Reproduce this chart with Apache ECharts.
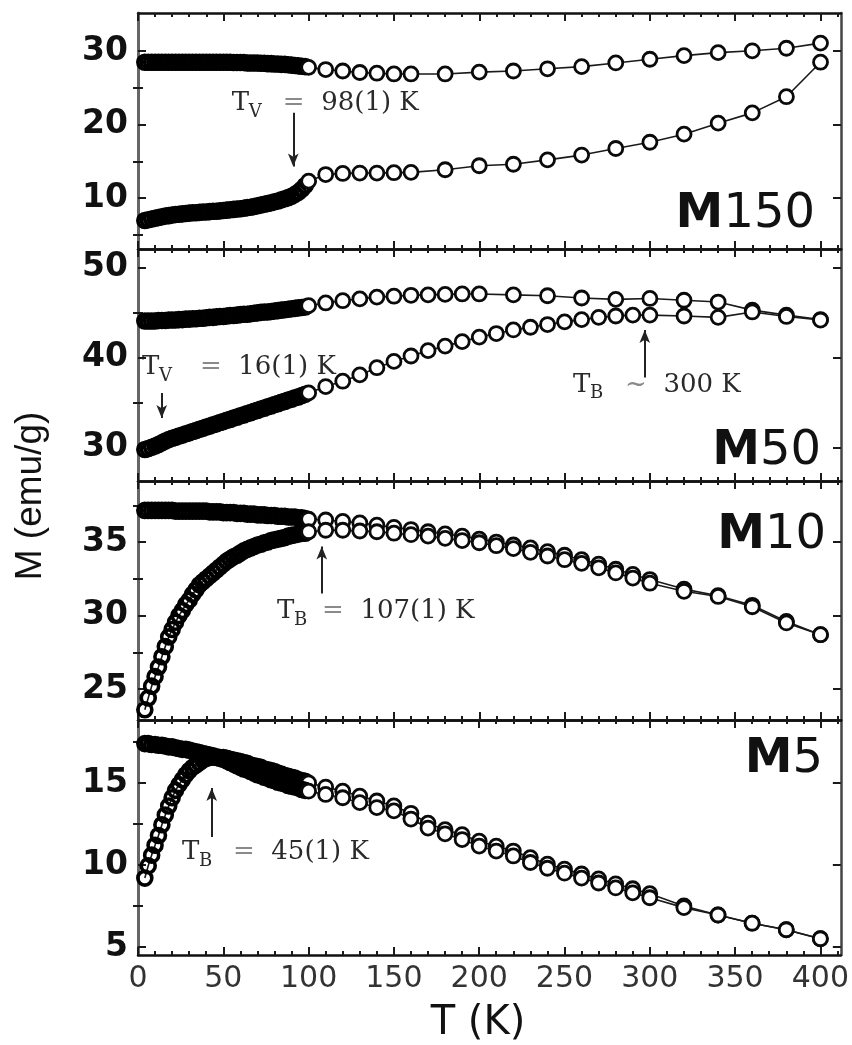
<!DOCTYPE html>
<html>
<head>
<meta charset="utf-8">
<script src="https://cdn.jsdelivr.net/npm/echarts@6/dist/echarts.min.js"></script>
<style>
  html, body { margin: 0; padding: 0; background: #fff; }
  #chart { width: 852px; height: 1045px; }
</style>
</head>
<body>
<div id="chart"></div>
<script>
// ---- temperature grids (K) ----
const T_FINE = [4,6,8,10,12,14,16,18,20,22,24,26,28,30,32,34,36,38,40,42,44,46,48,50,
                52,54,56,58,60,62,64,66,68,70,72,74,76,78,80,82,84,86,88,90,92,94,96,98];
const T_A = [100,110,120,130,140,150,160,180,200,220,240,260,280,300,320,340,360,380,400];
const T_B = [100,110,120,130,140,150,160,170,180,190,200,220,240,260,280,300,320,340,360,380,400];
const T_C = [100,110,120,130,140,150,160,170,180,190,200,210,220,230,240,250,260,270,280,290,300,
             320,340,360,380,400];

// ---- M150 (emu/g) ----
const M150_FC_FINE = [28.5,28.5,28.5,28.5,28.5,28.5,28.5,28.5,28.5,28.5,
                      28.5,28.5,28.5,28.5,28.5,28.5,28.5,28.5,28.5,28.5,
                      28.5,28.5,28.5,28.5,28.5,28.5,28.45,28.45,28.45,28.45,
                      28.4,28.4,28.4,28.4,28.35,28.35,28.3,28.3,28.25,28.25,
                      28.2,28.2,28.15,28.1,28.05,28.0,27.95,27.9];
const M150_FC = [27.8,27.5,27.3,27.1,27.0,26.9,26.9,26.9,27.15,27.3,27.6,27.9,28.4,28.9,29.4,29.8,30.05,30.4,31.1];
const M150_ZFC_FINE = [6.95,7.05,7.15,7.25,7.35,7.45,7.55,7.6,7.7,7.75,
                       7.8,7.85,7.9,7.95,8.0,8.0,8.05,8.1,8.1,8.15,
                       8.2,8.2,8.25,8.3,8.35,8.4,8.45,8.5,8.55,8.6,
                       8.7,8.75,8.85,8.95,9.05,9.15,9.25,9.35,9.5,9.6,
                       9.75,9.9,10.05,10.25,10.5,10.8,11.2,11.7];
const M150_ZFC = [12.3,13.2,13.35,13.4,13.4,13.45,13.5,13.85,14.4,14.6,15.2,15.85,16.75,17.6,18.7,20.2,21.6,23.8,28.5];

// ---- M50 ----
const M50_FC_FINE = [44.1,44.1,44.1,44.1,44.15,44.15,44.15,44.2,44.2,44.2,
                     44.25,44.25,44.3,44.3,44.35,44.35,44.4,44.4,44.45,44.5,
                     44.5,44.55,44.6,44.6,44.65,44.7,44.7,44.75,44.8,44.85,
                     44.85,44.9,44.95,45.0,45.05,45.1,45.1,45.15,45.2,45.25,
                     45.3,45.35,45.4,45.45,45.5,45.55,45.6,45.65];
const M50_FC = [45.8,46.1,46.35,46.55,46.75,46.85,46.95,47.0,47.05,47.1,47.1,
                47.0,46.9,46.65,46.5,46.6,46.4,46.2,45.3,44.75,44.25];
const M50_ZFC_FINE = [29.8,29.9,30.05,30.2,30.35,30.55,30.75,30.9,31.05,31.15,
                      31.3,31.4,31.55,31.65,31.8,31.9,32.05,32.15,32.3,32.4,
                      32.55,32.65,32.8,32.9,33.05,33.15,33.3,33.4,33.55,33.65,
                      33.8,33.9,34.05,34.15,34.3,34.4,34.55,34.65,34.8,34.9,
                      35.05,35.15,35.3,35.4,35.55,35.65,35.8,35.95];
const M50_ZFC = [36.1,36.8,37.4,38.1,38.9,39.6,40.2,40.8,41.3,41.8,42.3,42.7,43.1,43.4,43.7,
                 44.0,44.25,44.5,44.65,44.75,44.75,44.65,44.5,45.1,44.6,44.2];

// ---- M10 ----
const M10_FC_FINE = [37.15,37.15,37.15,37.15,37.15,37.15,37.15,37.15,37.15,
                     37.1,37.1,37.1,37.1,37.1,37.1,37.1,37.1,37.1,37.1,
                     37.05,37.05,37.05,37.05,37.0,37.0,37.0,37.0,36.95,36.95,
                     36.95,36.9,36.9,36.9,36.85,36.85,36.85,36.8,36.8,36.8,
                     36.75,36.75,36.75,36.7,36.7,36.7,36.65,36.65,36.6];
const M10_FC = [36.55,36.5,36.4,36.3,36.15,36.0,35.85,35.7,35.55,35.4,35.2,35.0,34.8,34.6,34.35,
                34.1,33.8,33.5,33.15,32.8,32.45,31.8,31.35,30.7,29.6,28.7];
const M10_ZFC_FINE = [23.6,24.4,25.2,25.85,26.5,27.2,27.9,28.55,29.05,29.55,
                      30.0,30.35,30.75,31.05,31.45,31.75,32.1,32.3,32.5,32.7,
                      32.9,33.1,33.3,33.5,33.7,33.85,34.0,34.1,34.25,34.4,
                      34.5,34.6,34.7,34.8,34.85,34.95,35.0,35.1,35.15,35.2,
                      35.25,35.3,35.4,35.45,35.5,35.55,35.6,35.6];
const M10_ZFC = [35.7,35.8,35.8,35.75,35.7,35.6,35.5,35.4,35.25,35.1,34.95,34.75,34.55,34.3,34.05,
                 33.8,33.55,33.25,32.9,32.55,32.2,31.65,31.3,30.6,29.5,28.7];

// ---- M5 ----
const M5_FC_FINE = [17.4,17.4,17.35,17.35,17.3,17.3,17.25,17.2,17.2,17.15,
                    17.1,17.05,17.05,17.0,16.95,16.9,16.85,16.8,16.75,16.7,
                    16.65,16.6,16.55,16.55,16.5,16.45,16.4,16.35,16.3,16.25,
                    16.2,16.1,16.05,16.0,15.95,15.85,15.8,15.75,15.7,15.6,
                    15.55,15.45,15.4,15.35,15.3,15.2,15.15,15.1];
const M5_FC = [15.0,14.75,14.5,14.2,13.9,13.6,13.15,12.55,12.15,11.85,11.45,11.15,10.85,10.45,10.05,
               9.75,9.45,9.15,8.85,8.55,8.25,7.5,6.95,6.45,6.05,5.5];
const M5_ZFC_FINE = [9.2,9.95,10.6,11.2,11.8,12.45,13.05,13.6,14.1,14.55,
                     14.9,15.2,15.5,15.75,15.95,16.1,16.25,16.4,16.5,16.55,
                     16.6,16.55,16.5,16.45,16.35,16.25,16.15,16.05,15.95,15.85,
                     15.8,15.7,15.6,15.5,15.45,15.35,15.3,15.2,15.15,15.05,
                     15.0,14.95,14.85,14.8,14.75,14.7,14.6,14.55];
const M5_ZFC = [14.5,14.3,14.1,13.8,13.5,13.3,12.8,12.25,11.9,11.55,11.15,10.85,10.55,10.15,9.8,
                9.5,9.2,8.9,8.6,8.3,8.0,7.4,6.95,6.45,6.05,5.5];

// ---- tick values ----
const X_MAJOR = [0,50,100,150,200,250,300,350,400];
const X_MINOR = [10,20,30,40,60,70,80,90,110,120,130,140,160,170,180,190,210,220,230,240,
                 260,270,280,290,310,320,330,340,360,370,380,390,410];
const Y_MAJOR = [[10,20,30],[30,40,50],[25,30,35],[5,10,15]];
const Y_MINOR = [[5,15,25],[35,45],[27.5,32.5,37.5],[7.5,12.5,17.5]];
const PANEL_NAMES = ['150','50','10','5'];

// ---- panel layout (pixels) and axis extents ----
const X_MIN = 0, X_MAX = 412;
const PANELS = [
  { top: 13,  height: 236, yMin: 3.06, yMax: 35.2 },
  { top: 249, height: 232, yMin: 26.3, yMax: 52.1 },
  { top: 481, height: 239, yMin: 22.9, yMax: 39.15 },
  { top: 720, height: 235, yMin: 4.51, yMax: 18.84 }
];

// FC / ZFC curves for each panel
const CURVES = [
  { panel: 0, fine: M150_FC_FINE,  t: T_A, coarse: M150_FC },
  { panel: 0, fine: M150_ZFC_FINE, t: T_A, coarse: M150_ZFC },
  { panel: 1, fine: M50_FC_FINE,   t: T_B, coarse: M50_FC },
  { panel: 1, fine: M50_ZFC_FINE,  t: T_C, coarse: M50_ZFC },
  { panel: 2, fine: M10_FC_FINE,   t: T_C, coarse: M10_FC },
  { panel: 2, fine: M10_ZFC_FINE,  t: T_C, coarse: M10_ZFC },
  { panel: 3, fine: M5_FC_FINE,    t: T_C, coarse: M5_FC },
  { panel: 3, fine: M5_ZFC_FINE,   t: T_C, coarse: M5_ZFC }
];

// transition markers: arrow at temperature t from M 'from' to M 'to'
const ARROWS = [
  { panel: 0, t: 91,    from: 21.6, to: 14.3 },
  { panel: 1, t: 13.9,  from: 36.1, to: 33.3 },
  { panel: 1, t: 297,   from: 37.8, to: 43.1 },
  { panel: 2, t: 107.7, from: 31.5, to: 34.7 },
  { panel: 3, t: 43.2,  from: 11.7, to: 14.7 }
];
const NOTES = [
  { panel: 0, t: 55,   m: 22.9, sub: 'V', rel: '=', val: '98(1) K',  dx: 51 },
  { panel: 1, t: 2.3,  m: 38.9, sub: 'V', rel: '=', val: '16(1) K',  dx: 58 },
  { panel: 1, t: 255,  m: 37.0, sub: 'B', rel: '~', val: '300 K',    dx: 52 },
  { panel: 2, t: 81.5, m: 30.3, sub: 'B', rel: '=', val: '107(1) K', dx: 45 },
  { panel: 3, t: 25.8, m: 10.8, sub: 'B', rel: '=', val: '45(1) K',  dx: 51 }
];

const chart = echarts.init(document.getElementById('chart'), null, { renderer: 'canvas' });

const grids = [], xAxes = [], yAxes = [], series = [];
const TICK = { color: '#1a1a1a', width: 2 };

PANELS.forEach((p, i) => {
  grids.push({ left: 138, right: 11, top: p.top, height: p.height, containLabel: false });
  const last = i === PANELS.length - 1;
  const xb = { type: 'value', gridIndex: i, min: X_MIN, max: X_MAX, splitLine: { show: false } };
  const line = { show: true, onZero: false, lineStyle: { color: '#111', width: 2.5 } };
  xAxes.push(
    Object.assign({}, xb, { position: 'bottom', axisLine: line,
      axisTick: { show: true, inside: true, length: 8, customValues: X_MAJOR, lineStyle: TICK },
      axisLabel: { show: last, customValues: X_MAJOR, margin: 9, fontFamily: 'DejaVu Sans',
                   fontSize: 30, color: '#333' } }),
    Object.assign({}, xb, { position: 'bottom', axisLine: { show: false },
      axisTick: { show: true, inside: true, length: 4, customValues: X_MINOR, lineStyle: TICK },
      axisLabel: { show: false } }),
    Object.assign({}, xb, { position: 'top', axisLine: line,
      axisTick: { show: true, inside: true, length: 8, customValues: X_MAJOR, lineStyle: TICK },
      axisLabel: { show: false } }),
    Object.assign({}, xb, { position: 'top', axisLine: { show: false },
      axisTick: { show: true, inside: true, length: 4, customValues: X_MINOR, lineStyle: TICK },
      axisLabel: { show: false } })
  );
  const yb = { type: 'value', gridIndex: i, min: p.yMin, max: p.yMax, splitLine: { show: false } };
  yAxes.push(
    Object.assign({}, yb, { position: 'left',
      axisLine: { show: true, onZero: false, lineStyle: { color: '#666', width: 3 } },
      axisTick: { show: true, inside: true, length: 8, customValues: Y_MAJOR[i], lineStyle: TICK },
      axisLabel: { show: true, customValues: Y_MAJOR[i], margin: 10, fontFamily: 'DejaVu Sans',
                   fontWeight: 'bold', fontSize: 33, color: '#111' } }),
    Object.assign({}, yb, { position: 'left', axisLine: { show: false },
      axisTick: { show: true, inside: true, length: 5, customValues: Y_MINOR[i], lineStyle: TICK },
      axisLabel: { show: false } }),
    Object.assign({}, yb, { position: 'right',
      axisLine: { show: true, onZero: false, lineStyle: { color: '#444', width: 2.5 } },
      axisTick: { show: true, inside: true, length: 8, customValues: Y_MAJOR[i], lineStyle: TICK },
      axisLabel: { show: false } }),
    Object.assign({}, yb, { position: 'right', axisLine: { show: false },
      axisTick: { show: true, inside: true, length: 5, customValues: Y_MINOR[i], lineStyle: TICK },
      axisLabel: { show: false } })
  );
});

CURVES.forEach((c, k) => {
  const data = [];
  // densely sampled low-temperature points: heavy open rings that merge into a dark band
  T_FINE.forEach((t, j) => data.push({ value: [t, c.fine[j]],
    itemStyle: { color: 'rgba(255,255,255,0)', borderColor: '#000', borderWidth: 3.6 } }));
  c.t.forEach((t, j) => data.push({ value: [t, c.coarse[j]] }));
  const s = {
    type: 'line', xAxisIndex: 4 * c.panel, yAxisIndex: 4 * c.panel, data,
    symbol: 'circle', symbolSize: 14, showSymbol: true, silent: true,
    lineStyle: { color: '#1a1a1a', width: 1.6 },
    itemStyle: { color: '#fff', borderColor: '#0a0a0a', borderWidth: 2.8 },
    emphasis: { disabled: true }
  };
  if (k % 2 === 0) {
    const arr = ARROWS.filter(a => a.panel === c.panel);
    s.markLine = {
      silent: true, symbol: ['none', 'arrow'], symbolSize: [8, 13], animation: false,
      lineStyle: { color: '#222', width: 2, type: 'solid' }, label: { show: false },
      data: arr.map(a => [{ coord: [a.t, a.from] }, { coord: [a.t, a.to] }])
    };
  }
  series.push(s);
});

chart.setOption({
  animation: false,
  backgroundColor: '#fff',
  grid: grids, xAxis: xAxes, yAxis: yAxes, series
});

// text overlays: titles, panel names and transition labels
const graphic = [
  { type: 'text', x: 31, y: 496, rotation: Math.PI / 2,
    style: { text: 'M (emu/g)', fontFamily: 'Liberation Sans', fontSize: 37, fill: '#111',
             align: 'center', verticalAlign: 'middle' } },
  { type: 'text', x: 478, y: 1024,
    style: { text: 'T (K)', fontFamily: 'DejaVu Sans', fontSize: 40, fill: '#111',
             align: 'center', verticalAlign: 'middle' } }
];
const NAME_POS = [[815, 215], [821, 452], [826, 536], [823, 760]];
PANEL_NAMES.forEach((n, i) => {
  graphic.push({ type: 'text', x: NAME_POS[i][0], y: NAME_POS[i][1],
    style: { text: '{m|M}{d|' + n + '}', align: 'right', verticalAlign: 'middle',
      rich: { m: { fontFamily: 'DejaVu Sans', fontWeight: 'bold', fontSize: 48, fill: '#111' },
              d: { fontFamily: 'DejaVu Sans', fontSize: 48, fill: '#111' } } } });
});
NOTES.forEach(nt => {
  const [px, py] = chart.convertToPixel({ gridIndex: nt.panel }, [nt.t, nt.m]);
  const f = 'DejaVu Serif';
  graphic.push(
    { type: 'text', x: px, y: py,
      style: { text: 'T', fontFamily: f, fontSize: 26, fill: '#2a2a2a', align: 'left', verticalAlign: 'middle' } },
    { type: 'text', x: px + 17, y: py + 9,
      style: { text: nt.sub, fontFamily: f, fontSize: 18, fill: '#2a2a2a', align: 'left', verticalAlign: 'middle' } },
    { type: 'text', x: px + nt.dx, y: py,
      style: { text: '{e|' + nt.rel + '}  ' + nt.val, fontFamily: f, fontSize: 26, fill: '#2a2a2a',
               align: 'left', verticalAlign: 'middle',
               rich: { e: { fontFamily: f, fontSize: 26, fill: '#8a8a8a' } } } }
  );
});
chart.setOption({ graphic });
</script>
</body>
</html>
